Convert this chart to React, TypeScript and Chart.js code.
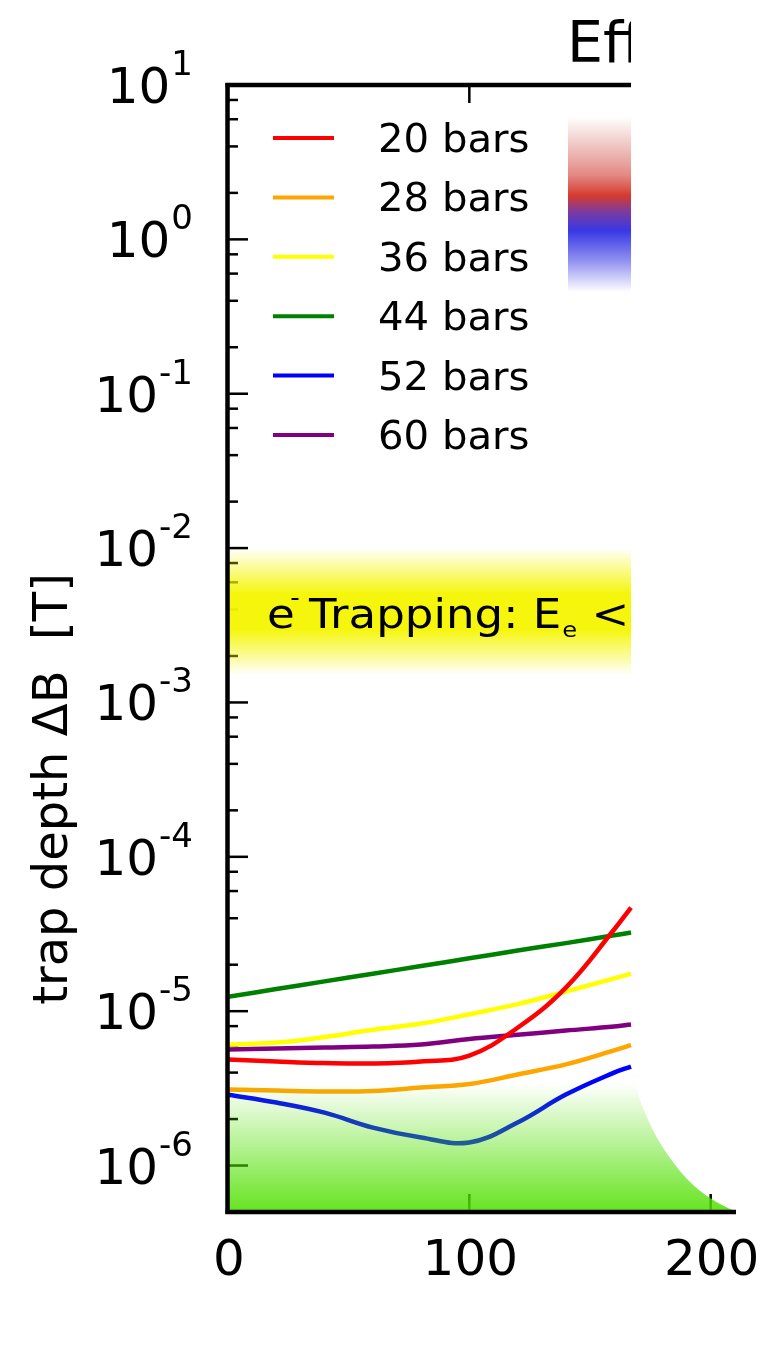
import React, { useEffect, useRef } from "react";
import { Chart, registerables } from "chart.js";

Chart.register(...registerables);

// ---- data ----
const distance = [0, 20, 40, 60, 80, 100, 120, 140, 160, 167];
const seriesLabels = ["20 bars", "28 bars", "36 bars", "44 bars", "52 bars", "60 bars"];
const seriesColors = ["#ff0000", "#ffa500", "#ffff00", "#008000", "#0000ff", "#800080"];
const bars20 = [4.86e-6, 4.72e-6, 4.61e-6, 4.58e-6, 4.72e-6, 5.16e-6, 7.81e-6, 1.42e-5, 3.38e-5, 4.69e-5];
const bars28 = [3.11e-6, 3.06e-6, 3.02e-6, 3.04e-6, 3.2e-6, 3.37e-6, 3.89e-6, 4.52e-6, 5.57e-6, 6.03e-6];
const bars36 = [6.08e-6, 6.26e-6, 6.8e-6, 7.57e-6, 8.31e-6, 9.55e-6, 1.11e-5, 1.34e-5, 1.63e-5, 1.75e-5];
const bars44 = [1.24e-5, 1.39e-5, 1.56e-5, 1.75e-5, 1.96e-5, 2.2e-5, 2.47e-5, 2.76e-5, 3.1e-5, 3.23e-5];
const bars52 = [2.88e-6, 2.56e-6, 2.2e-6, 1.76e-6, 1.52e-6, 1.41e-6, 1.9e-6, 2.88e-6, 4.0e-6, 4.38e-6];
const bars60 = [5.64e-6, 5.72e-6, 5.81e-6, 5.9e-6, 6.08e-6, 6.6e-6, 7.03e-6, 7.49e-6, 7.95e-6, 8.19e-6];
const allSeries = [bars20, bars28, bars36, bars44, bars52, bars60];

// green "allowed" region boundary
const regionX = [0, 168.2, 170.7, 174.1, 178.3, 183.8, 190.6, 199.7, 210.5];
const regionY = [3.42e-6, 3.42e-6, 2.656e-6, 1.971e-6, 1.463e-6, 1.085e-6, 8.06e-7, 6.16e-7, 5.0e-7];

// electron trapping band
const bandTop = 1e-2;
const bandBottom = 1.5e-3;
const bandEndX = 167;

// axes
const xMin = 0;
const xMax = 210.5;
const yMin = 5e-7;
const yMax = 10;
const xTickValues = [0, 100, 200];
const xTickLabels = ["0", "100", "200"];
const yDecades = [-6, -5, -4, -3, -2, -1, 0, 1];
const yMinorMultipliers = [2, 4, 6, 8];

const titleText = "Effective trap depth";
const yAxisTitle = "trap depth \u0394B  [T]";

const FONT = "'DejaVu Sans', sans-serif";

function txt(ctx: CanvasRenderingContext2D, s: string, x: number, y: number, size: number, align: CanvasTextAlign = "left") {
  ctx.font = `${size}px ${FONT}`;
  ctx.textAlign = align;
  ctx.textBaseline = "alphabetic";
  ctx.fillText(s, x, y);
}

const decorPlugin = {
  id: "decor",
  beforeDatasetsDraw(chart: any) {
    const ctx: CanvasRenderingContext2D = chart.ctx;
    const xs = chart.scales.x;
    const ys = chart.scales.y;
    const area = chart.chartArea;
    const left = area.left;
    const bottom = area.bottom;
    const top = area.top;
    ctx.save();
    // inward ticks
    ctx.strokeStyle = "#000";
    ctx.lineWidth = 2.5;
    for (const d of yDecades) {
      const y = ys.getPixelForValue(Math.pow(10, d));
      if (y >= top - 1 && y <= bottom + 1) {
        ctx.beginPath();
        ctx.moveTo(left, y);
        ctx.lineTo(left + 20, y);
        ctx.stroke();
      }
      for (const m of yMinorMultipliers) {
        const yy = ys.getPixelForValue(m * Math.pow(10, d));
        if (yy >= top && yy <= bottom) {
          ctx.beginPath();
          ctx.moveTo(left, yy);
          ctx.lineTo(left + 10, yy);
          ctx.stroke();
        }
      }
    }
    for (const v of xTickValues) {
      const x = xs.getPixelForValue(v);
      ctx.beginPath();
      ctx.moveTo(x, bottom);
      ctx.lineTo(x, bottom - 18);
      ctx.stroke();
      if (x < 632) {
        ctx.beginPath();
        ctx.moveTo(x, top);
        ctx.lineTo(x, top + 18);
        ctx.stroke();
      }
    }
    // yellow band
    const bt = ys.getPixelForValue(bandTop);
    const bb = ys.getPixelForValue(bandBottom);
    const bx = xs.getPixelForValue(bandEndX);
    const g = ctx.createLinearGradient(0, bt, 0, bb);
    g.addColorStop(0, "rgba(245,245,0,0)");
    g.addColorStop(0.36, "rgba(245,245,0,0.95)");
    g.addColorStop(0.64, "rgba(245,245,0,0.95)");
    g.addColorStop(1, "rgba(245,245,0,0)");
    ctx.fillStyle = g;
    ctx.fillRect(left, bt, bx - left, bb - bt);
    // colour bar
    const cg = ctx.createLinearGradient(0, 117, 0, 292);
    cg.addColorStop(0, "rgba(255,255,255,1)");
    cg.addColorStop(0.13, "#f2d2d0");
    cg.addColorStop(0.33, "#e38a85");
    cg.addColorStop(0.45, "#d63a2d");
    cg.addColorStop(0.54, "#7d3b9e");
    cg.addColorStop(0.65, "#3838e6");
    cg.addColorStop(0.82, "#9090f0");
    cg.addColorStop(1, "rgba(255,255,255,1)");
    ctx.fillStyle = cg;
    ctx.fillRect(568, 117, bx - 568, 175);
    ctx.restore();
  },
  afterDatasetsDraw(chart: any) {
    const ctx: CanvasRenderingContext2D = chart.ctx;
    const xs = chart.scales.x;
    const ys = chart.scales.y;
    const area = chart.chartArea;
    const cut = xs.getPixelForValue(bandEndX);
    ctx.save();
    // frame
    ctx.strokeStyle = "#000";
    ctx.lineWidth = 4.5;
    ctx.lineCap = "butt";
    ctx.beginPath();
    ctx.moveTo(area.left - 0.5, area.top - 2);
    ctx.lineTo(area.left - 0.5, area.bottom + 2);
    ctx.stroke();
    ctx.beginPath();
    ctx.moveTo(area.left - 2.5, area.top);
    ctx.lineTo(cut, area.top);
    ctx.stroke();
    ctx.beginPath();
    ctx.moveTo(area.left - 2.5, area.bottom);
    ctx.lineTo(area.right, area.bottom);
    ctx.stroke();

    ctx.fillStyle = "#000";
    // y tick labels
    for (const d of yDecades) {
      const y = ys.getPixelForValue(Math.pow(10, d));
      const exp = String(d);
      ctx.font = `34px ${FONT}`;
      const we = ctx.measureText(exp).width;
      txt(ctx, exp, 193, y - 10, 34, "right");
      txt(ctx, "10", 193 - we - 1, y + 18, 50, "right");
    }
    // x tick labels
    xTickValues.forEach((v, i) => {
      txt(ctx, xTickLabels[i], xs.getPixelForValue(v) + 1, 1275, 50, "center");
    });
    // y axis title
    ctx.save();
    ctx.translate(67, 789);
    ctx.rotate(-Math.PI / 2);
    txt(ctx, yAxisTitle, 0, 0, 48, "center");
    ctx.restore();

    // clipped title and annotation
    ctx.save();
    ctx.beginPath();
    ctx.rect(0, 0, cut, 1353);
    ctx.clip();
    txt(ctx, titleText, 567, 62, 57, "left");
    // annotation e- Trapping: E_e < ...
    ctx.save();
    ctx.translate(267, 628);
    ctx.scale(1.1, 1);
    let x = 0;
    txt(ctx, "e", x, 0, 41);
    ctx.font = `41px ${FONT}`;
    x += ctx.measureText("e").width;
    txt(ctx, "-", x - 4, -22, 24);
    txt(ctx, " Trapping: E", x, 0, 41);
    ctx.font = `41px ${FONT}`;
    x += ctx.measureText(" Trapping: E").width;
    txt(ctx, "e", x + 1, 9, 22);
    ctx.font = `22px ${FONT}`;
    x += ctx.measureText("e").width + 1;
    txt(ctx, " < 1 eV", x, 0, 41);
    ctx.restore();
    ctx.restore();

    // legend
    chart.data.datasets.forEach((ds: any, i: number) => {
      if (!ds.label || ds.label === "region") return;
      const y = 138 + i * 59.4;
      ctx.strokeStyle = ds.borderColor;
      ctx.lineWidth = 4;
      ctx.beginPath();
      ctx.moveTo(273, y);
      ctx.lineTo(334, y);
      ctx.stroke();
      ctx.fillStyle = "#000";
      ctx.save();
      ctx.translate(378, y + 14);
      ctx.scale(1.03, 1);
      txt(ctx, ds.label, 0, 0, 39, "left");
      ctx.restore();
    });
    ctx.restore();
  },
};

export default function App() {
  const ref = useRef<HTMLCanvasElement | null>(null);
  useEffect(() => {
    const canvas = ref.current;
    if (!canvas) return;
    const lineSets = allSeries.map((vals, i) => ({
      label: seriesLabels[i],
      data: distance.map((d, j) => ({ x: d, y: vals[j] })),
      borderColor: seriesColors[i],
      backgroundColor: seriesColors[i],
      borderWidth: 4.5,
      pointRadius: 0,
      tension: 0.4,
      fill: false,
      order: 1,
    }));
    const regionSet = {
      label: "region",
      data: regionX.map((x, j) => ({ x, y: regionY[j] })),
      borderWidth: 0,
      borderColor: "rgba(0,0,0,0)",
      pointRadius: 0,
      cubicInterpolationMode: "monotone" as const,
      fill: "start",
      order: 0,
      backgroundColor: (c: any) => {
        const ch = c.chart;
        const a = ch.chartArea;
        if (!a) return "rgba(90,225,10,0.5)";
        const t = ch.scales.y.getPixelForValue(regionY[0]);
        const g = ch.ctx.createLinearGradient(0, t, 0, a.bottom);
        g.addColorStop(0, "rgba(80,224,0,0)");
        g.addColorStop(1, "rgba(80,224,0,0.88)");
        return g;
      },
    };
    const chart = new Chart(canvas, {
      type: "line",
      data: { datasets: [...lineSets, regionSet] as any },
      options: {
        responsive: false,
        animation: false,
        layout: { padding: { left: 228, right: 26, top: 85, bottom: 141 } },
        scales: {
          x: { type: "linear", min: xMin, max: xMax, display: false },
          y: { type: "logarithmic", min: yMin, max: yMax, display: false },
        },
        plugins: { legend: { display: false }, tooltip: { enabled: false } },
      },
      plugins: [decorPlugin],
    });
    return () => chart.destroy();
  }, []);
  return (
    <div style={{ position: "absolute", left: 0, top: 0, width: 762, height: 1353, background: "#fff" }}>
      <canvas ref={ref} width={762} height={1353} style={{ display: "block", width: 762, height: 1353 }} />
    </div>
  );
}
